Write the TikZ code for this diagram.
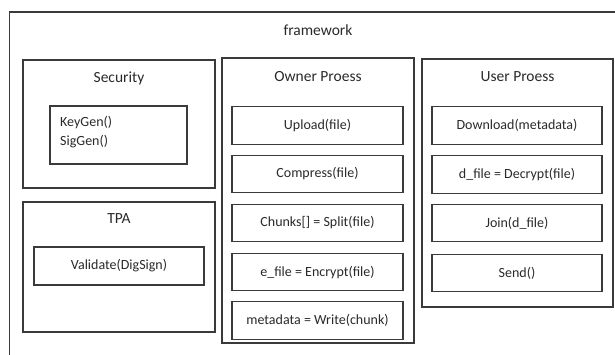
\documentclass[tikz,border=0pt]{standalone}
\usepackage{fontspec}
\setmainfont{Carlito}
\definecolor{ln}{HTML}{3A3A3A}
\definecolor{tx}{HTML}{2A2A2A}
\begin{document}
\begin{tikzpicture}[x=1pt,y=-1pt,
  box/.style={draw=ln,line width=1.2pt,rectangle,inner sep=0pt},
  item/.style={box,minimum width=171pt,minimum height=37.5pt,text=tx,font=\fontsize{14}{16}\selectfont},
  title/.style={text=tx,font=\fontsize{15.5}{18}\selectfont,inner sep=0pt}]
\useasboundingbox (0,0) rectangle (615,354);
\fill[white] (0,0) rectangle (615,354);
% outer framework box (extends past the page at right and bottom)
\coordinate (ftr) at (616,12);
\coordinate (ftl) at (9.5,12);
\coordinate (fbl) at (9.5,356);
\draw[ln,line width=1.2pt] (ftr) -- (ftl) -- (fbl);
\node[title] (fw) at (318,30) {framework};
% Security
\node[box,minimum width=192pt,minimum height=128pt] (sec) at (119,124) {};
\node[title] (sect) at (119,78) {Security};
\node[box,minimum width=137pt,minimum height=58pt] (kg) at (118.5,135) {};
\node[anchor=west,align=left,text=tx,font=\fontsize{14}{19}\selectfont,inner sep=0pt] (kgt) at (60,132.5) {KeyGen()\\SigGen()};
% TPA
\node[box,minimum width=192pt,minimum height=130pt] (tpa) at (119,267) {};
\node[title] (tpat) at (119,219) {TPA};
\node[item,minimum width=170pt,minimum height=38pt] (val) at (119,266) {Validate(DigSign)};
% Owner
\node[box,minimum width=192pt,minimum height=285pt] (own) at (318,200.5) {};
\node[title] (ownt) at (318,77) {Owner Proess};
\node[item] (up) at (317.5,125.5) {Upload(file)};
\node[item] (cmp) at (317.5,174) {Compress(file)};
\node[item] (chk) at (317.5,223) {Chunks[] = Split(file)};
\node[item] (enc) at (317.5,272) {e\_file = Encrypt(file)};
\node[item] (meta) at (317.5,320.5) {metadata = Write(chunk)};
% User
\node[box,minimum width=191pt,minimum height=248pt] (usr) at (517.5,183) {};
\node[title] (usrt) at (517.5,77) {User Proess};
\node[item,minimum width=170pt] (dl) at (517,125.5) {Download(metadata)};
\node[item,minimum width=170pt] (dec) at (517,174.5) {d\_file = Decrypt(file)};
\node[item,minimum width=170pt] (join) at (517,223) {Join(d\_file)};
\node[item,minimum width=170pt] (send) at (517,273) {Send()};
\end{tikzpicture}
\end{document}
